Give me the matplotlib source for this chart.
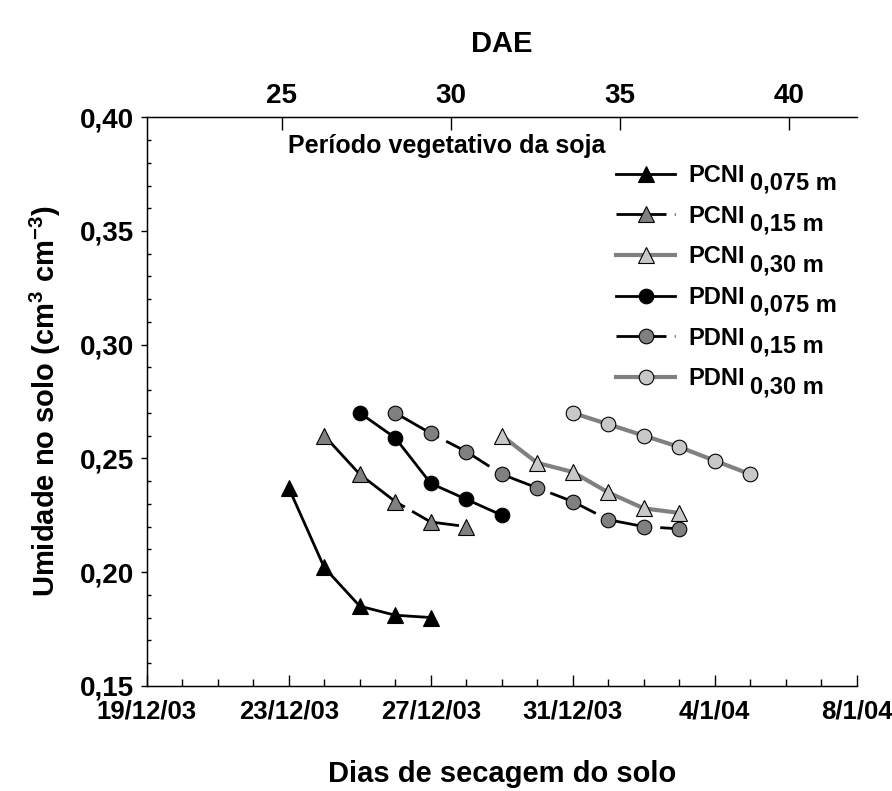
import numpy as np
import matplotlib
matplotlib.use('Agg')
import matplotlib.pyplot as plt
import matplotlib.dates as mdates
from matplotlib.ticker import MultipleLocator, FuncFormatter

plt.rcParams['font.family'] = ['Liberation Sans', 'DejaVu Sans']
plt.rcParams['font.weight'] = 'bold'
plt.rcParams['mathtext.fontset'] = 'custom'
plt.rcParams['mathtext.rm'] = 'Liberation Sans:bold'
plt.rcParams['mathtext.bf'] = 'Liberation Sans:bold'
plt.rcParams['mathtext.default'] = 'bf'

# data
pcni_075_dates = np.arange('2003-12-23', '2003-12-28', dtype='datetime64[D]')
pcni_075 = [0.237, 0.202, 0.185, 0.181, 0.180]

pcni_15_dates = np.arange('2003-12-24', '2003-12-29', dtype='datetime64[D]')
pcni_15 = [0.260, 0.243, 0.231, 0.222, 0.220]

pcni_30_dates = np.arange('2003-12-29', '2004-01-04', dtype='datetime64[D]')
pcni_30 = [0.260, 0.248, 0.244, 0.235, 0.228, 0.226]

pdni_075_dates = np.arange('2003-12-25', '2003-12-30', dtype='datetime64[D]')
pdni_075 = [0.270, 0.259, 0.239, 0.232, 0.225]

pdni_15_dates = np.arange('2003-12-26', '2004-01-04', dtype='datetime64[D]')
pdni_15 = [0.270, 0.261, 0.253, 0.243, 0.237, 0.231, 0.223, 0.220, 0.219]

pdni_30_dates = np.arange('2003-12-31', '2004-01-06', dtype='datetime64[D]')
pdni_30 = [0.270, 0.265, 0.260, 0.255, 0.249, 0.243]

x_ticks = np.arange('2003-12-19', '2004-01-09', 4, dtype='datetime64[D]')
x_min, x_max = np.datetime64('2003-12-19'), np.datetime64('2004-01-08')
dae_lim = (21, 42)
dae_ticks = [25, 30, 35, 40]

labels = ['PCNI', 'PCNI', 'PCNI', 'PDNI', 'PDNI', 'PDNI']
depths = ['0,075 m', '0,15 m', '0,30 m', '0,075 m', '0,15 m', '0,30 m']

GRAY = '#808080'
LIGHT = '#c8c8c8'
dash = (0, (18, 3))

fig = plt.figure(figsize=(8.92, 7.91), dpi=100)
ax = fig.add_axes([0.1645, 0.1331, 0.796, 0.7186])

series = [
    (pcni_075_dates, pcni_075, '^', 'black', 'black', '-', 2.0),
    (pcni_15_dates, pcni_15, '^', GRAY, 'black', dash, 2.0),
    (pcni_30_dates, pcni_30, '^', LIGHT, GRAY, '-', 3.0),
    (pdni_075_dates, pdni_075, 'o', 'black', 'black', '-', 2.0),
    (pdni_15_dates, pdni_15, 'o', GRAY, 'black', dash, 2.0),
    (pdni_30_dates, pdni_30, 'o', LIGHT, GRAY, '-', 3.0),
]
handles = []
for d, v, m, fc, lc, ls, lw in series:
    h, = ax.plot(d, v, marker=m, markersize=11 if m == '^' else 10.5,
                 markerfacecolor=fc, markeredgecolor='black', markeredgewidth=0.8,
                 color=lc, linestyle=ls, linewidth=lw)
    handles.append(h)

ax.set_xlim(x_min, x_max)
ax.set_ylim(0.15, 0.40)
ax.set_xticks(x_ticks)
ax.xaxis.set_minor_locator(mdates.DayLocator())
ax.xaxis.set_major_formatter(FuncFormatter(
    lambda v, p: (lambda d: f"{d.day}/{d.month}/{d:%y}")(mdates.num2date(v))))
ax.yaxis.set_major_locator(MultipleLocator(0.05))
ax.yaxis.set_minor_locator(MultipleLocator(0.01))
ax.yaxis.set_major_formatter(FuncFormatter(lambda v, p: f"{v:.2f}".replace('.', ',')))

ax.tick_params(axis='x', which='major', direction='in', length=8, width=1, labelsize=18.5, pad=10)
ax.tick_params(axis='x', which='minor', direction='in', length=5, width=1)
ax.tick_params(axis='y', which='major', direction='out', length=4, width=1, labelsize=20, pad=5)
ax.tick_params(axis='y', which='minor', direction='in', length=3, width=1)
ax.spines['right'].set_visible(False)
for s in ['left', 'bottom', 'top']:
    ax.spines[s].set_linewidth(1)

ax.set_xlabel('Dias de secagem do solo', fontsize=21, fontweight='bold', labelpad=26)
ax.set_ylabel('Umidade no solo (cm$^{3}$ cm$^{-3}$)', fontsize=21, fontweight='bold', labelpad=12)

ax2 = ax.twiny()
ax2.set_xlim(*dae_lim)
ax2.set_xticks(dae_ticks)
ax2.tick_params(axis='x', direction='in', length=9, width=1, labelsize=20, pad=6)
ax2.spines['right'].set_visible(False)
ax2.set_xlabel('DAE', fontsize=21, fontweight='bold', labelpad=22)

ax.text(0.199, 0.97, 'Período vegetativo da soja', transform=ax.transAxes,
        fontsize=18, fontweight='bold', va='top', ha='left')

leg = ax.legend(handles, labels, loc='upper left', bbox_to_anchor=(0.661, 0.918),
                frameon=False, fontsize=17, handlelength=2.5, handletextpad=0.55,
                labelspacing=0.75, borderpad=0, borderaxespad=0)
for t, dp in zip(leg.get_texts(), depths):
    ax.annotate(dp, xy=(1, 0), xycoords=t, xytext=(4, -2), textcoords='offset points',
                ha='left', va='baseline', fontsize=17, fontweight='bold', zorder=6,
                annotation_clip=False)

fig.canvas.draw()
fig.savefig('out.png', dpi=100)
